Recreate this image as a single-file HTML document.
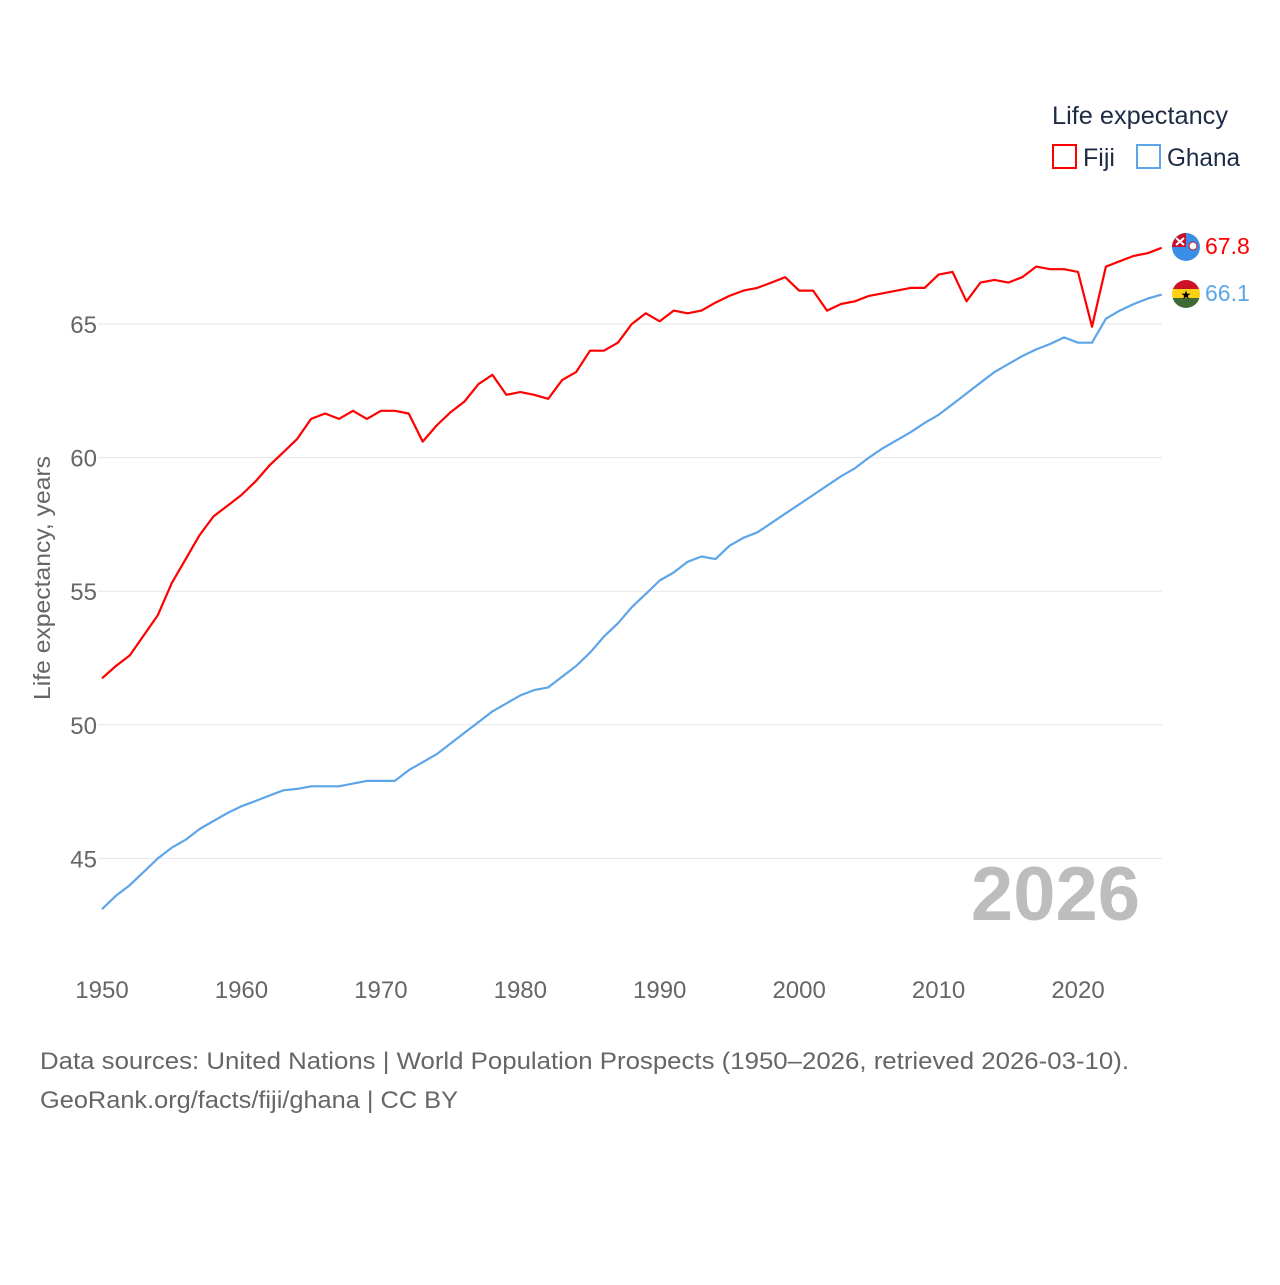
<!DOCTYPE html>
<html><head><meta charset="utf-8"><style>
body{margin:0;background:#fff;font-family:"Liberation Sans",sans-serif}
svg text{font-family:"Liberation Sans",sans-serif}
</style></head><body>
<svg id="chart" width="1280" height="1280" viewBox="0 0 1280 1280" xmlns="http://www.w3.org/2000/svg">
<rect width="1280" height="1280" fill="#fff"/>
<g id="grid"></g>
<g id="yticks"></g>
<g id="xticks"></g>
<text transform="translate(50,578) rotate(-90)" text-anchor="middle" font-size="23" fill="#666" textLength="244" lengthAdjust="spacingAndGlyphs">Life expectancy, years</text>
<text x="1140" y="920" text-anchor="end" font-size="76" font-weight="bold" fill="#bdbdbd">2026</text>
<g id="lines"></g>
<g>
<text x="1052" y="124" font-size="25" fill="#1d2b45" textLength="176" lengthAdjust="spacingAndGlyphs">Life expectancy</text>
<rect x="1053" y="145" width="23" height="23" fill="none" stroke="#ff0000" stroke-width="2"/>
<text x="1083" y="166" font-size="25" fill="#1d2b45">Fiji</text>
<rect x="1137" y="145" width="23" height="23" fill="none" stroke="#5da5e8" stroke-width="2"/>
<text x="1167" y="166" font-size="25" fill="#1d2b45" textLength="73" lengthAdjust="spacingAndGlyphs">Ghana</text>
</g>
<g>
<circle cx="1186" cy="247" r="14" fill="#3a8ee6"/>
<path d="M1172 247 A14 14 0 0 1 1186 233 L1186 247 Z" fill="#c8102e"/>
<path d="M1176 238 L1184 245 M1184 238 L1176 245" stroke="#fff" stroke-width="2"/>
<circle cx="1193" cy="246" r="4" fill="#fff" stroke="#c8102e" stroke-width="1"/>
</g>
<g>
<clipPath id="gc"><circle cx="1186" cy="294" r="14"/></clipPath>
<g clip-path="url(#gc)">
<rect x="1172" y="280" width="28" height="10" fill="#ce1126"/>
<rect x="1172" y="289" width="28" height="10" fill="#fcd116"/>
<rect x="1172" y="298" width="28" height="10" fill="#3d6a35"/>
</g>
<text x="1186" y="299" text-anchor="middle" font-size="12" fill="#000">★</text>
</g>
<text id="fijiVal" x="1205" y="254" font-size="23" fill="#ff0000">67.8</text>
<text id="ghanaVal" x="1205" y="301" font-size="23" fill="#5da5e8">66.1</text>
<text x="40" y="1069" font-size="24" fill="#666" textLength="1089" lengthAdjust="spacingAndGlyphs">Data sources: United Nations | World Population Prospects (1950–2026, retrieved 2026-03-10).</text>
<text x="40" y="1108" font-size="24" fill="#666" textLength="418" lengthAdjust="spacingAndGlyphs">GeoRank.org/facts/fiji/ghana | CC BY</text>
</svg>
<script>
const years = [];
for (let y = 1950; y <= 2026; y++) years.push(y);
const fiji = [51.74,52.2,52.6,53.35,54.1,55.3,56.2,57.1,57.8,58.2,58.6,59.1,59.7,60.2,60.7,61.45,61.65,61.45,61.75,61.45,61.75,61.75,61.65,60.6,61.2,61.7,62.1,62.75,63.1,62.35,62.45,62.35,62.2,62.9,63.2,64.0,64.0,64.3,65.0,65.4,65.1,65.5,65.4,65.5,65.8,66.05,66.25,66.35,66.55,66.75,66.25,66.25,65.5,65.75,65.85,66.05,66.15,66.25,66.35,66.35,66.85,66.95,65.85,66.55,66.65,66.55,66.75,67.15,67.05,67.05,66.95,64.9,67.15,67.35,67.55,67.65,67.85];
const ghana = [43.1,43.6,44.0,44.5,45.0,45.4,45.7,46.1,46.4,46.7,46.95,47.15,47.35,47.55,47.6,47.7,47.7,47.7,47.8,47.9,47.9,47.9,48.3,48.6,48.9,49.3,49.7,50.1,50.5,50.8,51.1,51.3,51.4,51.8,52.2,52.7,53.3,53.8,54.4,54.9,55.4,55.7,56.1,56.3,56.2,56.7,57.0,57.2,57.55,57.9,58.25,58.6,58.95,59.3,59.6,60.0,60.35,60.65,60.95,61.3,61.6,62.0,62.4,62.8,63.2,63.5,63.8,64.05,64.25,64.5,64.3,64.3,65.2,65.5,65.75,65.95,66.1];
const yTicks = [45,50,55,60,65];
const xTicks = [1950,1960,1970,1980,1990,2000,2010,2020];
const NS = "http://www.w3.org/2000/svg";
const x = v => 102 + (v - 1950) * 13.943;
const y = v => 324 + (65 - v) * 26.72;
const grid = document.getElementById('grid'), yt = document.getElementById('yticks'), xt = document.getElementById('xticks'), lines = document.getElementById('lines');
yTicks.forEach(t => {
  const l = document.createElementNS(NS,'line');
  
  
  l.setAttribute('x1', 98); l.setAttribute('x2', 1162);
  l.setAttribute('y1', y(t)); l.setAttribute('y2', y(t));
  l.setAttribute('stroke', '#e6e6e6'); l.setAttribute('stroke-width', 1);
  grid.appendChild(l);
  const tx = document.createElementNS(NS,'text');
  
  
  tx.setAttribute('x', 97); tx.setAttribute('y', y(t) + 9);
  tx.setAttribute('text-anchor', 'end'); tx.setAttribute('font-size', 24); tx.setAttribute('fill', '#666');
  tx.textContent = t; yt.appendChild(tx);
});
xTicks.forEach(t => {
  const tx = document.createElementNS(NS,'text');
  
  
  tx.setAttribute('x', x(t)); tx.setAttribute('y', 998);
  tx.setAttribute('text-anchor', 'middle'); tx.setAttribute('font-size', 24); tx.setAttribute('fill', '#666');
  tx.textContent = t; xt.appendChild(tx);
});
function drawLine(vals, color, name) {
  const p = document.createElementNS(NS,'polyline');
  
  
  p.setAttribute('points', vals.map((v,i) => x(years[i]).toFixed(1) + ',' + y(v).toFixed(1)).join(' '));
  p.setAttribute('fill', 'none'); p.setAttribute('stroke', color); p.setAttribute('stroke-width', 2.2);
  p.setAttribute('stroke-linejoin', 'round');
  lines.appendChild(p);
}
drawLine(ghana, '#5da5e8', 'ghana-line');
drawLine(fiji, '#ff0000', 'fiji-line');
document.getElementById('fijiVal').textContent = fiji[fiji.length-1].toFixed(1);
document.getElementById('ghanaVal').textContent = ghana[ghana.length-1].toFixed(1);
</script>
</body></html>
